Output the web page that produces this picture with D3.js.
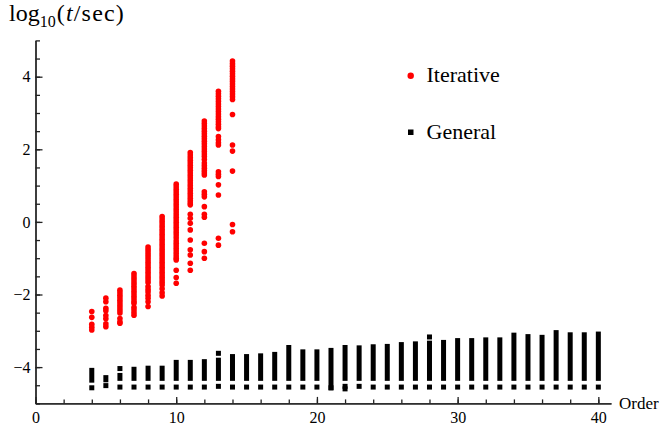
<!DOCTYPE html>
<head>
  <meta charset="utf-8">
  <title>Timing chart</title>
  <script src="https://d3js.org/d3.v7.min.js"></script>
  <style>
    body { margin: 0; background: #fff; }
    text { font-family: "Liberation Serif", "Times New Roman", serif; }
  </style>
</head>
<body>
  <div id="chart"></div>

  <script type="text/javascript">

    // Iterative: one list of log10(t/sec) values per order
    var iterOrders = [4, 5, 6, 7, 8, 9, 10, 11, 12, 13, 14];
    var iterValues = [
      [-2.47, -2.63, -2.82, -2.90, -2.98],
      [-2.10, -2.20, -2.38, -2.45, -2.58, -2.67, -2.81, -2.89],
      [-1.88, -1.95, -2.02, -2.09, -2.16, -2.23, -2.30, -2.37, -2.44, -2.51, -2.66, -2.75, -2.79],
      [-1.42, -1.49, -1.56, -1.63, -1.70, -1.77, -1.84, -1.91, -1.98, -2.05, -2.12, -2.19, -2.24,
       -2.35, -2.42, -2.50, -2.57],
      [-0.69, -0.76, -0.83, -0.90, -0.97, -1.04, -1.11, -1.18, -1.25, -1.32, -1.39, -1.46, -1.53,
       -1.60, -1.67, -1.78, -1.86, -1.93, -2.02, -2.10, -2.20, -2.33],
      [0.15, 0.08, 0.01, -0.06, -0.13, -0.20, -0.27, -0.34, -0.41, -0.48, -0.55, -0.62, -0.69,
       -0.76, -0.83, -0.90, -0.97, -1.04, -1.11, -1.18, -1.25, -1.32, -1.39, -1.46, -1.53,
       -1.60, -1.67, -1.74, -1.84, -1.95, -2.04],
      [1.04, 0.97, 0.90, 0.83, 0.76, 0.69, 0.62, 0.55, 0.48, 0.41, 0.34, 0.27, 0.20, 0.13, 0.06,
       -0.01, -0.08, -0.15, -0.22, -0.29, -0.36, -0.44, -0.52, -0.59, -0.66, -0.73, -0.80,
       -0.87, -0.94, -1.00, -1.05, -1.33, -1.53, -1.69],
      [1.91, 1.84, 1.77, 1.70, 1.63, 1.56, 1.49, 1.42, 1.35, 1.28, 1.21, 1.14, 1.07, 1.00, 0.93,
       0.86, 0.79, 0.72, 0.65, 0.58, 0.52, 0.47, 0.21, 0.10, -0.04, -0.22, -0.50, -0.77, -0.91,
       -1.14, -1.33],
      [2.78, 2.71, 2.64, 2.57, 2.50, 2.43, 2.36, 2.29, 2.22, 2.15, 2.08, 2.01, 1.94, 1.87, 1.80,
       1.72, 1.62, 1.55, 1.48, 1.41, 1.35, 1.29, 0.83, 0.76, 0.69, 0.42, 0.21, 0.13,
       -0.59, -0.82, -1.00],
      [3.60, 3.53, 3.46, 3.39, 3.32, 3.25, 3.18, 3.11, 3.04, 2.97, 2.90, 2.83, 2.76, 2.69, 2.62,
       2.57, 2.35, 2.26, 2.18, 2.12, 1.38, 1.31, 1.25, 1.02, 0.74, -0.45, -0.64],
      [4.43, 4.36, 4.29, 4.22, 4.15, 4.08, 4.01, 3.94, 3.87, 3.80, 3.73, 3.66, 3.59, 3.52, 3.45,
       3.37, 2.96, 2.12, 1.95, 1.40, -0.07, -0.27]
    ];

    // General: a solid run of points from barTop to barBottom, one low point, a few stray points
    var genOrders = [4, 5, 6, 7, 8, 9, 10, 11, 12, 13, 14, 15, 16, 17, 18, 19, 20, 21, 22,
                     23, 24, 25, 26, 27, 28, 29, 30, 31, 32, 33, 34, 35, 36, 37, 38, 39, 40];
    var genBarTop = [-4.09, -4.29, -4.23, -4.06, -4.03, -4.03, -3.87, -3.87, -3.85, -3.81,
                     -3.71, -3.71, -3.69, -3.65, -3.46, -3.58, -3.58, -3.54, -3.46, -3.47,
                     -3.44, -3.43, -3.38, -3.36, -3.34, -3.32, -3.27, -3.27, -3.25, -3.25,
                     -3.12, -3.16, -3.18, -3.05, -3.11, -3.11, -3.09];
    var genBarBottom = [-4.36, -4.35, -4.31, -4.31, -4.31, -4.31, -4.31, -4.31, -4.31, -4.31,
                        -4.31, -4.31, -4.31, -4.31, -4.31, -4.31, -4.31, -4.57, -4.31, -4.31,
                        -4.31, -4.31, -4.31, -4.31, -4.31, -4.31, -4.31, -4.31, -4.31, -4.31,
                        -4.31, -4.31, -4.31, -4.31, -4.31, -4.31, -4.31];
    var genLow = [-4.57, -4.51, -4.55, -4.55, -4.55, -4.55, -4.55, -4.55, -4.55, -4.53,
                  -4.55, -4.55, -4.55, -4.55, -4.55, -4.55, -4.55, -4.57, -4.53, -4.53,
                  -4.55, -4.55, -4.55, -4.55, -4.55, -4.55, -4.55, -4.55, -4.55, -4.55,
                  -4.55, -4.55, -4.55, -4.55, -4.55, -4.55, -4.55];
    var genExtra = [[6, -4.04], [13, -3.62], [22, -4.60], [28, -3.17]];

    var yMajorTicks = [-4, -2, 0, 2, 4];
    var xMajorTicks = [0, 10, 20, 30, 40];

    var width = 660;
    var height = 433;

    var xScale = d3.scaleLinear().domain([0, 40.9]).range([35.5, 611]);
    var yScale = d3.scaleLinear().domain([-5, 5]).range([403.4, 40.4]);

    var svg = d3.select('#chart')
      .append('svg')
        .attr('width', width)
        .attr('height', height);

    // minor and major ticks of the y-axis, pointing inwards
    svg.append('g')
        .attr('transform', 'translate(' + xScale(0) + ',0)')
        .call(d3.axisLeft(yScale).tickValues(d3.range(-5, 5.01, 0.5))
          .tickSizeInner(-4.5).tickSizeOuter(0).tickFormat(''))
        .call(styleAxis);
    svg.append('g')
        .attr('transform', 'translate(' + xScale(0) + ',0)')
        .call(d3.axisLeft(yScale).tickValues(yMajorTicks)
          .tickSizeInner(-7).tickSizeOuter(0).tickPadding(5)
          .tickFormat(function (d) { return String(d).replace('-', '\u2212'); }))
        .call(styleAxis);

    svg.append('g')
        .attr('transform', 'translate(0,' + yScale(-5) + ')')
        .call(d3.axisBottom(xScale).tickValues(d3.range(0, 41, 2))
          .tickSizeInner(-4).tickSizeOuter(0).tickFormat(''))
        .call(styleAxis);
    svg.append('g')
        .attr('transform', 'translate(0,' + yScale(-5) + ')')
        .call(d3.axisBottom(xScale).tickValues(xMajorTicks)
          .tickSizeInner(-6.5).tickSizeOuter(0).tickPadding(8.5))
        .call(styleAxis);

    function styleAxis(g) {
      g.select('.domain').attr('stroke', '#222').attr('stroke-width', 1.3);
      g.selectAll('.tick line').attr('stroke', '#222').attr('stroke-width', 1.3);
      g.selectAll('.tick text')
        .attr('fill', '#000')
        .style('font-family', '"Liberation Serif", serif')
        .style('font-size', '16px');
    }

    // axis titles
    var title = svg.append('text')
      .attr('x', 9)
      .attr('y', 21)
      .style('font-size', '24px')
      .attr('fill', '#000');
    title.append('tspan').text('log');
    title.append('tspan').attr('dy', 6).style('font-size', '16px').text('10');
    title.append('tspan').attr('dy', -6).attr('dx', 1).style('letter-spacing', '1.2px').text('(');
    title.append('tspan').style('font-style', 'italic').style('letter-spacing', '1.2px').text('t');
    title.append('tspan').style('letter-spacing', '1.2px').text('/sec)');

    svg.append('text')
      .attr('x', 619)
      .attr('y', 409)
      .style('font-size', '17px')
      .attr('fill', '#000')
      .text('Order');

    // General: solid runs and single squares
    var sq = 5;
    var plot = svg.append('g');

    plot.selectAll('rect.run')
      .data(genOrders)
      .enter().append('rect')
        .attr('class', 'run')
        .attr('x', function (d) { return xScale(d) - sq / 2; })
        .attr('y', function (d, i) { return yScale(genBarTop[i]) - sq / 2; })
        .attr('width', sq)
        .attr('height', function (d, i) { return yScale(genBarBottom[i]) - yScale(genBarTop[i]) + sq; })
        .attr('fill', '#000');

    plot.selectAll('rect.low')
      .data(genOrders)
      .enter().append('rect')
        .attr('class', 'low')
        .attr('x', function (d) { return xScale(d) - sq / 2; })
        .attr('y', function (d, i) { return yScale(genLow[i]) - sq / 2; })
        .attr('width', sq)
        .attr('height', sq)
        .attr('fill', '#000');

    plot.selectAll('rect.extra')
      .data(genExtra)
      .enter().append('rect')
        .attr('class', 'extra')
        .attr('x', function (d) { return xScale(d[0]) - sq / 2; })
        .attr('y', function (d) { return yScale(d[1]) - sq / 2; })
        .attr('width', sq)
        .attr('height', sq)
        .attr('fill', '#000');

    // Iterative: red dots
    var iterPoints = [];
    iterOrders.forEach(function (o, i) {
      iterValues[i].forEach(function (v) { iterPoints.push({ order: o, value: v }); });
    });

    plot.selectAll('circle.iter')
      .data(iterPoints)
      .enter().append('circle')
        .attr('class', 'iter')
        .attr('cx', function (d) { return xScale(d.order); })
        .attr('cy', function (d) { return yScale(d.value); })
        .attr('r', 2.8)
        .attr('fill', 'red');

    // legend
    var legend = svg.append('g');
    legend.append('circle')
      .attr('cx', 410.7).attr('cy', 75.7).attr('r', 3.2).attr('fill', 'red');
    legend.append('text')
      .attr('x', 426.5).attr('y', 82).style('font-size', '22px').text('Iterative');
    legend.append('rect')
      .attr('x', 408).attr('y', 129.5).attr('width', 5.5).attr('height', 5.5).attr('fill', '#000');
    legend.append('text')
      .attr('x', 426.5).attr('y', 138.5).style('font-size', '22px').text('General');
  </script>
</body>
